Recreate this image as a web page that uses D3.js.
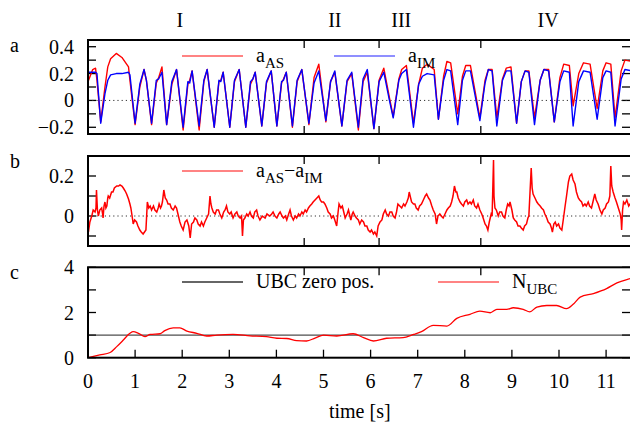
<!DOCTYPE html>
<html><head><meta charset="utf-8">
<script src="https://cdn.jsdelivr.net/npm/d3@7"></script>
<style>html,body{margin:0;padding:0;background:#fff;} svg{display:block;}</style>
</head><body>
<svg id="chart" width="630" height="425"></svg>
<script>
// ---------- DATA ----------
const regionNames = ["I", "II", "III", "IV"];
const regionLabelT = [1.95, 5.24, 6.65, 9.77];
const regionBounds = [4.59, 6.18, 8.34];

const xTicks = [0,1,2,3,4,5,6,7,8,9,10,11];
const aTicks = [0.4,0.3,0.2,0.1,0,-0.1,-0.2];
const aLabels = [0.4,0.2,0,-0.2];
const bTicks = [0.2,0.1,0,-0.1];
const bLabels = [0.2,0];
const cTicks = [0,1,2,3,4];
const cLabels = [0,2,4];

// panel a: accelerations
const tA  = [0.00,0.10,0.16,0.19,0.27,0.36,0.42,0.48,0.60,0.72,0.86,0.89,1.00,1.10,1.19,1.24,1.35,1.45,1.50,1.57,1.67,1.78,1.88,2.02,2.12,2.16,2.21,2.36,2.46,2.53,2.68,2.78,2.82,2.87,3.01,3.11,3.21,3.35,3.45,3.50,3.55,3.69,3.79,3.89,4.01,4.11,4.15,4.21,4.34,4.44,4.54,4.69,4.80,4.90,5.05,5.15,5.24,5.39,5.50,5.60,5.74,5.84,5.93,6.07,6.18,6.28,6.40,6.48,6.60,6.66,6.76,6.91,7.02,7.10,7.20,7.35,7.44,7.55,7.62,7.70,7.85,7.95,8.02,8.12,8.32,8.43,8.50,8.58,8.68,8.80,8.88,8.98,9.10,9.20,9.28,9.36,9.48,9.60,9.68,9.78,9.90,10.02,10.10,10.22,10.30,10.42,10.52,10.66,10.81,10.93,11.00,11.10,11.19,11.32,11.40,11.55];
const aAS = [0.14,0.23,0.24,0.15,-0.16,0.10,0.25,0.31,0.35,0.32,0.25,0.15,-0.18,0.10,0.23,0.15,-0.18,0.13,0.17,0.25,-0.18,0.12,0.23,-0.22,0.12,0.15,0.22,-0.22,0.14,0.23,-0.20,0.14,0.15,0.21,-0.20,0.14,0.23,-0.20,0.12,0.16,0.21,-0.19,0.13,0.22,-0.19,0.13,0.16,0.21,-0.20,0.14,0.23,-0.18,0.17,0.27,-0.16,0.14,0.21,-0.19,0.14,0.20,-0.22,0.14,0.21,-0.21,0.15,0.24,0.02,-0.12,0.16,0.23,0.26,-0.17,0.12,0.24,0.27,0.23,-0.14,0.18,0.29,0.28,-0.10,0.18,0.26,0.26,-0.13,0.15,0.23,0.23,-0.13,0.16,0.24,0.25,-0.17,0.14,0.22,0.22,-0.13,0.15,0.23,0.23,-0.16,0.17,0.27,0.26,-0.04,0.20,0.28,0.27,-0.06,0.22,0.28,0.27,-0.13,0.22,0.30,0.29];
const aIM = [0.21,0.21,0.21,0.20,-0.17,0.05,0.15,0.19,0.20,0.20,0.21,0.19,-0.17,0.12,0.23,0.15,-0.17,0.15,0.16,0.21,-0.18,0.14,0.23,-0.20,0.14,0.13,0.22,-0.19,0.15,0.23,-0.20,0.15,0.14,0.21,-0.20,0.15,0.23,-0.20,0.14,0.16,0.21,-0.19,0.14,0.22,-0.19,0.14,0.15,0.21,-0.19,0.15,0.23,-0.17,0.13,0.22,-0.15,0.14,0.22,-0.19,0.15,0.21,-0.20,0.16,0.23,-0.21,0.14,0.21,0.00,-0.13,0.15,0.20,0.23,-0.20,0.12,0.18,0.20,0.19,-0.14,0.15,0.23,0.22,-0.18,0.15,0.22,0.22,-0.15,0.13,0.23,0.22,-0.19,0.15,0.22,0.22,-0.17,0.14,0.22,0.21,-0.18,0.15,0.23,0.22,-0.16,0.14,0.22,0.21,-0.19,0.14,0.22,0.21,-0.14,0.17,0.22,0.21,-0.19,0.16,0.23,0.22];

// panel b: difference a_AS - a_IM
const tB = [0.01,0.04,0.08,0.11,0.15,0.17,0.18,0.20,0.22,0.25,0.29,0.31,0.32,0.34,0.36,0.38,0.40,0.42,0.43,0.46,0.50,0.53,0.56,0.61,0.65,0.68,0.72,0.75,0.79,0.82,0.86,0.89,0.91,0.93,0.96,0.99,1.03,1.06,1.10,1.13,1.17,1.20,1.23,1.26,1.29,1.32,1.35,1.39,1.42,1.46,1.49,1.51,1.54,1.56,1.58,1.61,1.64,1.67,1.70,1.74,1.77,1.81,1.85,1.88,1.91,1.95,1.98,2.02,2.06,2.10,2.14,2.17,2.20,2.24,2.27,2.31,2.34,2.38,2.41,2.45,2.48,2.52,2.56,2.59,2.61,2.63,2.66,2.70,2.73,2.77,2.80,2.84,2.88,2.91,2.94,2.97,3.01,3.04,3.08,3.12,3.16,3.19,3.23,3.26,3.28,3.30,3.33,3.37,3.40,3.44,3.47,3.51,3.54,3.58,3.61,3.65,3.70,3.76,3.80,3.86,3.90,3.93,3.97,4.01,4.05,4.08,4.12,4.15,4.19,4.22,4.26,4.29,4.32,4.36,4.40,4.43,4.47,4.50,4.54,4.57,4.61,4.64,4.68,4.71,4.75,4.78,4.82,4.86,4.90,4.93,4.96,5.00,5.03,5.07,5.10,5.14,5.17,5.21,5.24,5.28,5.31,5.33,5.37,5.40,5.43,5.46,5.50,5.53,5.56,5.58,5.61,5.63,5.67,5.70,5.74,5.77,5.81,5.85,5.88,5.92,5.95,5.99,6.02,6.06,6.09,6.13,6.16,6.20,6.24,6.27,6.31,6.34,6.38,6.41,6.45,6.48,6.52,6.55,6.58,6.62,6.66,6.70,6.73,6.77,6.80,6.82,6.85,6.87,6.91,6.94,6.97,7.01,7.04,7.08,7.12,7.16,7.19,7.23,7.26,7.30,7.33,7.37,7.40,7.43,7.47,7.50,7.54,7.58,7.62,7.65,7.69,7.72,7.75,7.78,7.81,7.83,7.86,7.90,7.93,7.97,8.00,8.04,8.07,8.11,8.14,8.18,8.21,8.25,8.28,8.32,8.36,8.39,8.43,8.46,8.49,8.52,8.54,8.56,8.58,8.61,8.62,8.64,8.67,8.71,8.74,8.78,8.81,8.85,8.88,8.91,8.94,8.96,9.00,9.03,9.06,9.10,9.13,9.17,9.20,9.24,9.27,9.31,9.34,9.36,9.41,9.43,9.45,9.49,9.53,9.56,9.60,9.63,9.67,9.70,9.74,9.77,9.81,9.84,9.86,9.89,9.92,9.95,9.99,10.02,10.06,10.09,10.13,10.16,10.20,10.23,10.27,10.30,10.34,10.37,10.41,10.44,10.48,10.51,10.55,10.58,10.62,10.65,10.69,10.72,10.76,10.79,10.83,10.87,10.91,10.94,10.98,11.01,11.05,11.08,11.10,11.12,11.15,11.19,11.22,11.26,11.30,11.32,11.33,11.35,11.37,11.40,11.44,11.48,11.51,11.55];
const dAB = [-0.08,-0.03,0.00,0.03,0.02,0.04,0.13,0.03,0.00,0.03,0.04,0.01,-0.01,0.05,0.07,0.04,0.05,0.09,0.10,0.09,0.12,0.12,0.14,0.15,0.15,0.155,0.15,0.14,0.125,0.11,0.085,0.06,0.04,0.01,-0.04,-0.02,-0.03,-0.05,-0.07,-0.08,-0.09,-0.08,-0.07,0.07,0.04,0.05,0.03,0.05,0.03,0.02,0.04,0.06,0.04,0.05,0.07,0.13,0.09,0.08,0.06,0.06,0.04,0.03,0.05,0.04,0.01,-0.03,-0.05,-0.07,-0.03,-0.02,-0.05,-0.11,-0.04,-0.03,-0.01,-0.02,-0.04,-0.05,-0.03,-0.05,-0.03,-0.01,0.01,0.10,0.06,0.04,0.02,0.01,0.03,0.03,0.01,-0.01,0.02,0.03,0.05,0.02,0.01,0.02,-0.01,0.01,0.02,0.00,-0.01,0.00,-0.10,-0.02,-0.01,0.01,0.00,0.02,0.00,-0.01,0.02,0.03,0.00,-0.02,0.00,-0.01,0.01,0.00,0.01,0.02,0.00,-0.01,0.01,0.02,0.00,-0.01,0.00,-0.02,0.01,0.03,0.00,-0.02,0.00,-0.01,0.01,0.00,0.02,0.01,0.03,0.02,0.04,0.05,0.06,0.07,0.08,0.09,0.10,0.08,0.07,0.07,0.06,0.04,0.02,0.01,-0.01,0.00,-0.02,-0.05,0.02,0.06,0.04,0.05,0.02,-0.01,0.01,0.03,0.00,-0.02,0.01,0.02,0.00,-0.01,-0.02,-0.04,-0.02,-0.03,-0.05,-0.05,-0.07,-0.08,-0.07,-0.09,-0.08,-0.10,-0.05,-0.03,-0.02,0.01,0.03,0.01,0.00,0.02,0.02,0.00,-0.01,0.02,0.06,0.05,0.04,0.06,0.05,0.07,0.09,0.12,0.09,0.07,0.06,0.06,0.04,0.03,0.05,0.06,0.08,0.10,0.11,0.09,0.08,0.05,0.03,0.01,-0.04,0.00,0.01,0.00,-0.01,0.01,0.03,0.04,0.05,0.07,0.10,0.15,0.12,0.12,0.09,0.07,0.06,0.05,0.07,0.08,0.06,0.07,0.06,0.08,0.05,0.04,0.06,0.03,0.01,-0.01,-0.04,-0.05,-0.07,-0.03,-0.01,0.01,0.00,0.28,0.10,0.04,0.03,0.00,0.02,0.02,0.00,-0.01,0.03,0.06,0.05,0.07,0.03,-0.01,-0.02,-0.03,-0.05,-0.05,-0.06,-0.07,-0.05,-0.04,-0.01,0.00,0.24,0.14,0.11,0.09,0.07,0.06,0.05,0.04,0.03,0.01,-0.01,-0.03,-0.04,-0.06,-0.08,-0.04,-0.03,-0.05,-0.04,-0.06,-0.07,-0.02,0.05,0.10,0.17,0.20,0.21,0.18,0.16,0.12,0.09,0.08,0.07,0.05,0.06,0.05,0.07,0.05,0.04,0.07,0.11,0.08,0.06,0.03,0.01,0.03,0.04,0.06,0.07,0.10,0.25,0.15,0.12,0.09,0.07,0.04,0.01,-0.02,-0.07,0.03,0.07,0.06,0.08,0.05,0.06,0.05];

// panel c: N_UBC
const tC = [0.00,0.25,0.47,0.61,0.75,0.89,0.96,1.07,1.21,1.32,1.53,1.63,1.81,1.95,2.10,2.31,2.52,2.73,3.08,3.44,3.79,4.01,4.22,4.43,4.64,4.82,5.00,5.28,5.63,5.85,6.06,6.34,6.69,6.91,7.08,7.33,7.62,7.83,8.11,8.32,8.54,8.68,8.89,9.03,9.24,9.38,9.53,9.74,9.95,10.16,10.30,10.45,10.73,11.01,11.23,11.44,11.55];
const nUBC = [0.00,0.12,0.23,0.49,0.78,1.08,1.15,1.08,0.93,1.03,1.06,1.20,1.32,1.32,1.18,1.08,0.96,1.00,1.03,0.97,0.93,0.86,0.85,0.76,0.74,0.87,1.00,0.96,1.06,0.89,0.74,0.86,0.89,1.03,1.15,1.43,1.40,1.74,1.92,2.06,1.99,2.14,2.14,2.21,2.14,2.03,2.24,2.31,2.31,2.17,2.36,2.68,2.84,3.06,3.31,3.46,3.52];
const ubcZero = 1;

// ---------- DRAW ----------
const svg = d3.select("#chart");
const FONT = "'Liberation Serif','Times New Roman','DejaVu Serif',serif";
const x = d3.scaleLinear().domain([0, 11.55]).range([88, 632]);
const panels = [
  {id:"a", y: d3.scaleLinear().domain([-0.25,0.45]).range([134,40]), ticks:aTicks, labels:aLabels, fmt:d=>d===0?"0":d3.format(".1f")(d).replace("-","\u2212")},
  {id:"b", y: d3.scaleLinear().domain([-0.15,0.3]).range([246,156]), ticks:bTicks, labels:bLabels, fmt:d=>d===0?"0":d3.format(".1f")(d)},
  {id:"c", y: d3.scaleLinear().domain([0,4]).range([357.7,267.3]), ticks:cTicks, labels:cLabels, fmt:d=>String(d)}
];

const defs = svg.append("defs");
panels.forEach(p => {
  const [y0, y1] = p.y.range();
  defs.append("clipPath").attr("id","clip-"+p.id).append("rect")
    .attr("x", x(0)).attr("y", y1).attr("width", x.range()[1]-x(0)).attr("height", y0-y1);
});

const TL = 8;
panels.forEach((p, i) => {
  const g = svg.append("g");
  const [yb, yt] = p.y.range();
  p.ticks.forEach(v => {
    g.append("line").attr("x1", x(0)).attr("x2", x(0)+TL).attr("y1", p.y(v)).attr("y2", p.y(v)).attr("stroke","#000").attr("stroke-width",1.3);
    g.append("line").attr("x1", 630).attr("x2", 630-TL).attr("y1", p.y(v)).attr("y2", p.y(v)).attr("stroke","#000").attr("stroke-width",1.3);
  });
  p.labels.forEach(v => {
    g.append("text").attr("x", 74).attr("y", p.y(v)).attr("dy","0.35em")
      .attr("text-anchor","end").style("font-family",FONT).attr("font-size",20).text(p.fmt(v));
  });
  regionBounds.forEach(t => {
    g.append("line").attr("x1", x(t)).attr("x2", x(t)).attr("y1", yt).attr("y2", yt+TL).attr("stroke","#000").attr("stroke-width",1.3);
    if (p.id !== "c")
      g.append("line").attr("x1", x(t)).attr("x2", x(t)).attr("y1", yb).attr("y2", yb-TL).attr("stroke","#000").attr("stroke-width",1.3);
  });
  g.append("text").attr("x", 10).attr("y", yt+12).style("font-family",FONT).attr("font-size",20).text(p.id);
  p.g = g;
});

const pc = panels[2];
xTicks.forEach(t => {
  pc.g.append("line").attr("x1", x(t)).attr("x2", x(t)).attr("y1", pc.y(0)).attr("y2", pc.y(0)-TL).attr("stroke","#000").attr("stroke-width",1.3);
  pc.g.append("text").attr("x", x(t)).attr("y", 381).attr("dy","0.35em").attr("text-anchor","middle")
    .style("font-family",FONT).attr("font-size",20).text(t);
});
svg.append("text").attr("x", x(5.77)).attr("y", 418).attr("text-anchor","middle")
  .style("font-family",FONT).attr("font-size",20).text("time [s]");

regionNames.forEach((n, i) => {
  svg.append("text").attr("x", x(regionLabelT[i])).attr("y", 27).attr("text-anchor","middle")
    .style("font-family",FONT).attr("font-size",20).text(n);
});

[panels[0], panels[1]].forEach(p => {
  p.g.append("line").attr("x1", x(0)).attr("x2", 630).attr("y1", p.y(0)).attr("y2", p.y(0))
    .attr("stroke","#333").attr("stroke-width",1).attr("stroke-dasharray","1.2,3");
});

pc.g.append("line").attr("x1", x(0)).attr("x2", 630).attr("y1", pc.y(ubcZero)).attr("y2", pc.y(ubcZero))
  .attr("stroke","#222").attr("stroke-width",1);

const pa = panels[0], pb = panels[1];
const lineA = d3.line().x(d=>x(d[0])).y(d=>pa.y(d[1]));
pa.g.append("path").datum(tA.map((t,i)=>[t,aAS[i]])).attr("d", lineA).attr("fill","none")
  .attr("stroke","#ff0000").attr("stroke-width",1.4).attr("stroke-linejoin","round").attr("clip-path","url(#clip-a)");
pa.g.append("path").datum(tA.map((t,i)=>[t,aIM[i]])).attr("d", lineA).attr("fill","none")
  .attr("stroke","#0000ff").attr("stroke-width",1.4).attr("stroke-linejoin","round").attr("clip-path","url(#clip-a)");

const lineB = d3.line().x(d=>x(d[0])).y(d=>pb.y(d[1]));
pb.g.append("path").datum(tB.map((t,i)=>[t,dAB[i]])).attr("d", lineB).attr("fill","none")
  .attr("stroke","#ff0000").attr("stroke-width",1.5).attr("clip-path","url(#clip-b)");

const lineC = d3.line().x(d=>x(d[0])).y(d=>pc.y(d[1])).curve(d3.curveMonotoneX);
pc.g.append("path").datum(tC.map((t,i)=>[t,nUBC[i]])).attr("d", lineC).attr("fill","none")
  .attr("stroke","#ff0000").attr("stroke-width",1.3).attr("clip-path","url(#clip-c)");

panels.forEach(p => {
  const [yb, yt] = p.y.range();
  p.g.append("rect").attr("x", x(0)).attr("y", yt).attr("width", 640-x(0)).attr("height", yb-yt)
    .attr("fill","none").attr("stroke","#000").attr("stroke-width",2);
});

function legendEntry(g, x1, y, color, parts) {
  g.append("line").attr("x1", x1).attr("x2", x1+61).attr("y1", y).attr("y2", y)
    .attr("stroke", color).attr("stroke-width", 1.5);
  const txt = g.append("text").attr("x", x1+74).attr("y", y+6).style("font-family",FONT).attr("font-size",20);
  parts.forEach(pt => {
    if (pt.sub) txt.append("tspan").attr("dy", 6).attr("font-size", 15).text(pt.s);
    else txt.append("tspan").attr("dy", pt.reset ? -6 : 0).text(pt.s);
  });
}
legendEntry(pa.g, 182, 56, "#ff5a5a", [{s:"a"},{s:"AS",sub:true}]);
legendEntry(pa.g, 334, 56, "#6a6aff", [{s:"a"},{s:"IM",sub:true}]);
legendEntry(pb.g, 182, 171, "#ff5a5a", [{s:"a"},{s:"AS",sub:true},{s:"\u2212a",reset:true},{s:"IM",sub:true}]);
legendEntry(pc.g, 182, 282, "#333", [{s:"UBC zero pos."}]);
legendEntry(pc.g, 438, 282, "#ff5a5a", [{s:"N"},{s:"UBC",sub:true}]);
</script>
</body></html>
